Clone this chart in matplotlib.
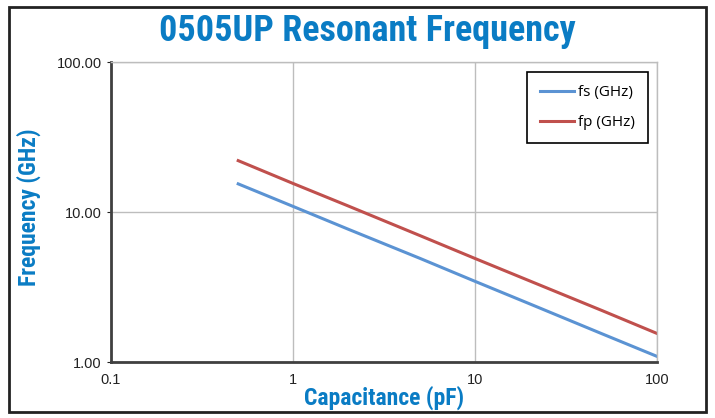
import matplotlib.pyplot as plt
from matplotlib.patches import Rectangle
from matplotlib.ticker import FixedLocator, FixedFormatter, NullLocator

# values (log-log)
cap_pf = [0.5, 1, 2, 5, 10, 20, 50, 100]
fs_ghz = [15.4, 10.9, 7.7, 4.9, 3.45, 2.44, 1.54, 1.09]
fp_ghz = [22.0, 15.5, 11.0, 6.95, 4.9, 3.47, 2.2, 1.55]

x_ticks = [0.1, 1, 10, 100]
x_labels = ['0.1', '1', '10', '100']
y_ticks = [1, 10, 100]
y_labels = ['1.00', '10.00', '100.00']

blue_txt = '#0a7cc4'
narrow = ['Roboto Condensed', 'Liberation Sans Narrow', 'Liberation Sans']

fig = plt.figure(figsize=(7.15, 4.18), dpi=100)
ax = fig.add_axes([111/715, 56/418, 546/715, 300/418])

ax.plot(cap_pf, fs_ghz, color='#5b93d3', lw=2.2, label='fs (GHz)')
ax.plot(cap_pf, fp_ghz, color='#c0504d', lw=2.2, label='fp (GHz)')

ax.set_xscale('log')
ax.set_yscale('log')
ax.set_xlim(0.1, 100)
ax.set_ylim(1, 100)
ax.xaxis.set_major_locator(FixedLocator(x_ticks))
ax.xaxis.set_major_formatter(FixedFormatter(x_labels))
ax.yaxis.set_major_locator(FixedLocator(y_ticks))
ax.yaxis.set_major_formatter(FixedFormatter(y_labels))
ax.xaxis.set_minor_locator(NullLocator())
ax.yaxis.set_minor_locator(NullLocator())

ax.grid(True, color='#bdbdbd', lw=1)
ax.tick_params(axis='both', labelsize=10.5, colors='#222222', length=3)
ax.tick_params(axis='x', length=0, pad=8)
for lbl in ax.get_xticklabels() + ax.get_yticklabels():
    lbl.set_family('Liberation Sans')
for s in ['top', 'right']:
    ax.spines[s].set_color('#bdbdbd')
    ax.spines[s].set_linewidth(1)
for s in ['left', 'bottom']:
    ax.spines[s].set_color('#404040')
    ax.spines[s].set_linewidth(2)

ax.set_xlabel('Capacitance (pF)', fontsize=17, fontweight='bold',
              color=blue_txt, family=narrow, labelpad=-1)
ax.set_ylabel('Frequency (GHz)', fontsize=17, fontweight='bold',
              color=blue_txt, family=narrow, labelpad=13)
ax.yaxis.set_label_coords(-0.128, 0.515)

leg = ax.legend(loc='upper right', bbox_to_anchor=(0.9835, 0.967),
                borderaxespad=0, fancybox=False, edgecolor='black',
                framealpha=1, prop={'family': 'Open Sans', 'size': 11},
                handlelength=2.2, handletextpad=0.3,
                borderpad=0.85, labelspacing=1.0)
leg.get_frame().set_linewidth(1.2)

fig.text(367/715, 1 - 31/418, '0505UP Resonant Frequency',
         ha='center', va='center', fontsize=26, fontweight='bold',
         color=blue_txt, family=narrow)

fig.patches.append(Rectangle((9/715, 6/418), 697/715, 405/418,
                             transform=fig.transFigure, fill=False,
                             edgecolor='#222222', lw=2))

fig.savefig('out.png', dpi=100)
